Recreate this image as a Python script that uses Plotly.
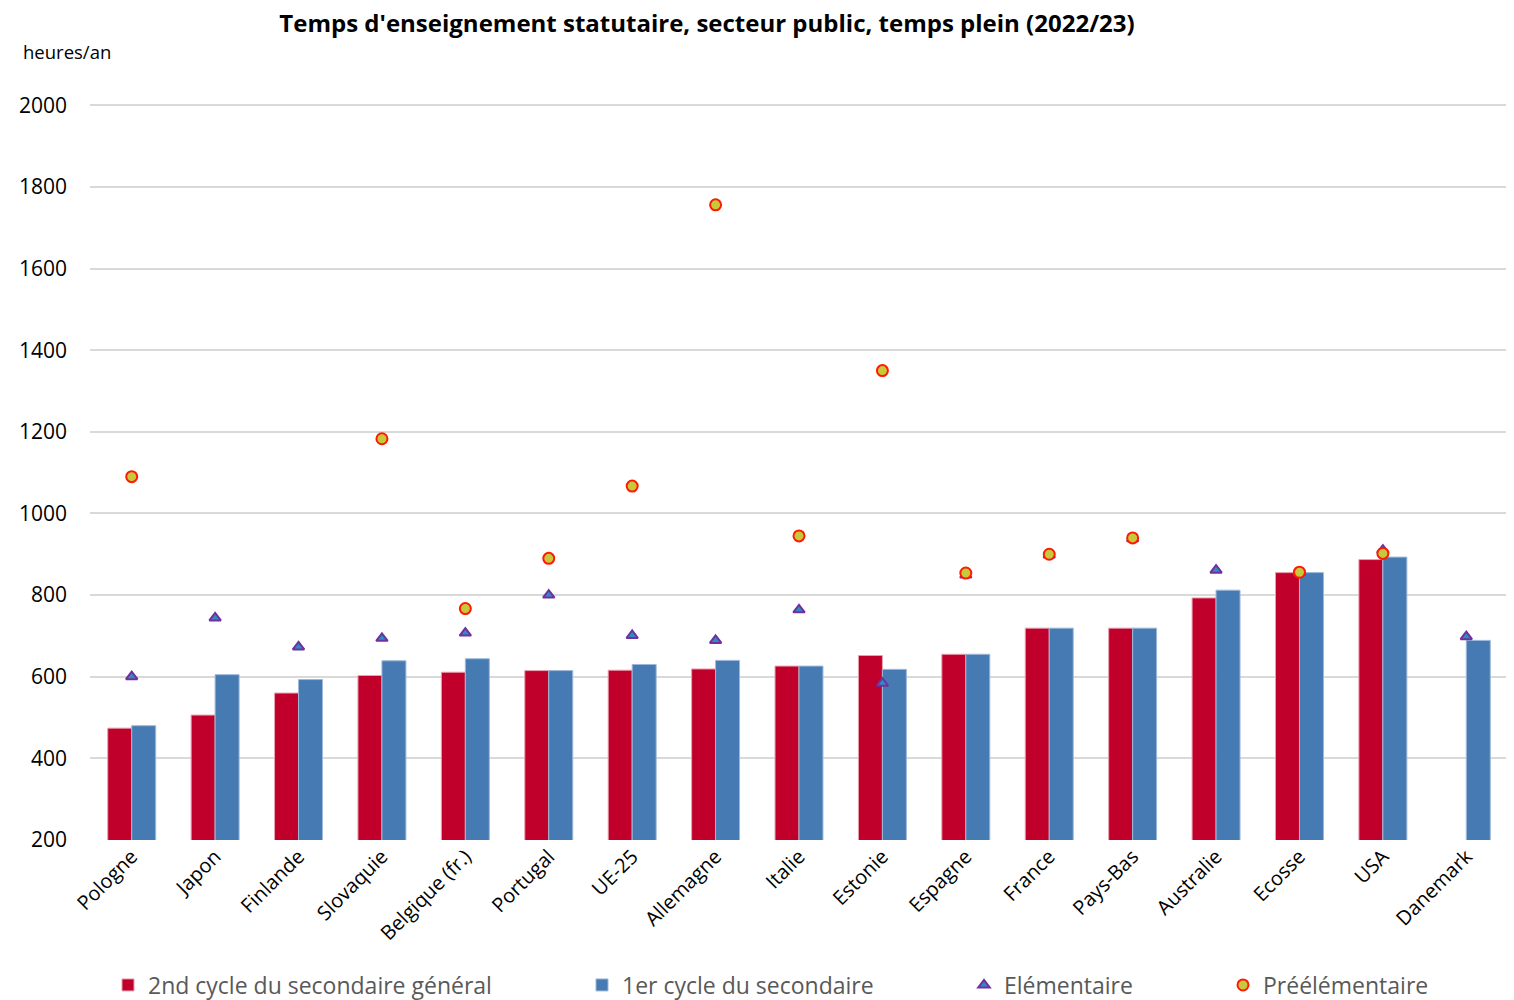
import plotly.graph_objects as go

countries = ["Pologne", "Japon", "Finlande", "Slovaquie", "Belgique (fr.)", "Portugal", "UE-25",
             "Allemagne", "Italie", "Estonie", "Espagne", "France", "Pays-Bas", "Australie",
             "Ecosse", "USA", "Danemark"]
second_cycle = [474, 506, 560, 603, 611, 615, 616, 619, 626, 652, 655, 719, 719, 793, 855, 887, None]
premier_cycle = [480, 605, 593, 639, 644, 615, 630, 640, 626, 618, 655, 719, 719, 812, 855, 893, 689]
elementaire = [600, 744, 673, 694, 707, 800, 701, 689, 764, 584, 849, 898, 938, 861, 855, 910, 698]
preelementaire = [1090, None, None, 1183, 767, 890, 1067, 1756, 945, 1350, 854, 900, 940, None, 856, 902, None]

y_ticks = [200, 400, 600, 800, 1000, 1200, 1400, 1600, 1800, 2000]

FONT = "Open Sans, Liberation Sans, sans-serif"
OFF = 8  # default page body margin
W, H = 1514 - OFF, 1000 - OFF
L_W, R_W, T_W, B_W = 90 - OFF, 6, 104 - OFF, 160
plot_w = W - L_W - R_W
plot_h = H - T_W - B_W

def px_x(px):
    return (px - OFF - L_W) / plot_w

def px_y(py):
    return (H - B_W - (py - OFF)) / plot_h

fig = go.Figure()
fig.add_trace(go.Bar(x=countries, y=second_cycle, name="2nd cycle du secondaire général",
                     marker=dict(color="#C0002A", line=dict(color="#E8A0B0", width=1)),
                     legend="legend"))
fig.add_trace(go.Bar(x=countries, y=premier_cycle, name="1er cycle du secondaire",
                     marker=dict(color="#467AB2", line=dict(color="#9DB8D8", width=1)),
                     legend="legend2"))
fig.add_trace(go.Scatter(x=countries, y=elementaire, name="Elémentaire", mode="markers",
                         marker=dict(symbol="triangle-up", size=10, color="#2A8FBD",
                                     line=dict(color="#7030A0", width=2)),
                         legend="legend3"))
fig.add_trace(go.Scatter(x=countries, y=preelementaire, name="Préélémentaire", mode="markers",
                         marker=dict(symbol="circle", size=11, color="#C8C83C",
                                     line=dict(color="#FF1A00", width=2)),
                         legend="legend4"))

leg_common = dict(orientation="h", yanchor="middle", y=px_y(985), xanchor="left",
                  font=dict(family=FONT, size=23, color="#595959"), bgcolor="rgba(0,0,0,0)")
fig.update_layout(
    width=W, height=H,
    margin=dict(l=L_W, r=R_W, t=T_W, b=B_W, autoexpand=False),
    plot_bgcolor="white", paper_bgcolor="white",
    barmode="group", bargap=0.425, bargroupgap=0,
    title=dict(text="<b>Temps d'enseignement statutaire, secteur public, temps plein (2022/23)</b>",
               x=(707 - OFF) / W, xanchor="center", xref="container",
               y=1 - (24 - OFF) / H, yanchor="middle", yref="container",
               font=dict(family=FONT, size=24, color="black")),
    legend=dict(x=px_x(108), **leg_common),
    legend2=dict(x=px_x(582), **leg_common),
    legend3=dict(x=px_x(964), **leg_common),
    legend4=dict(x=px_x(1223), **leg_common),
    xaxis=dict(range=[-0.5, len(countries) - 0.5], tickangle=-45,
               tickfont=dict(family=FONT, size=20, color="black"),
               showgrid=False, showline=False, ticks="", automargin=False),
    yaxis=dict(range=[200, 2003], tickvals=y_ticks, showgrid=True, gridcolor="#D9D9D9",
               gridwidth=1.5, zeroline=False, showline=False, ticks="", automargin=False,
               tickfont=dict(family=FONT, size=21, color="black"), ticklabelstandoff=22),
    annotations=[dict(text="heures/an", xref="paper", yref="paper",
                      x=px_x(21), y=px_y(51), xanchor="left", yanchor="middle",
                      showarrow=False, font=dict(family=FONT, size=18.5, color="black"))],
    showlegend=True,
)

fig.write_html("out.html")
